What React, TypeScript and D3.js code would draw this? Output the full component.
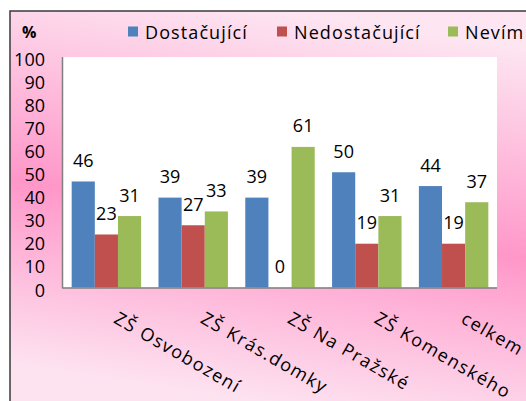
import React from "react";
import * as d3 from "d3";

const categories = ["ZŠ Osvobození", "ZŠ Krás.domky", "ZŠ Na Pražské", "ZŠ Komenského", "celkem"];
const seriesNames = ["Dostačující", "Nedostačující", "Nevím"];
const dostacujici = [46, 39, 39, 50, 44];
const nedostacujici = [23, 27, 0, 19, 19];
const nevim = [31, 33, 61, 31, 37];
const yTicks = [0, 10, 20, 30, 40, 50, 60, 70, 80, 90, 100];
const colors = ["#4F81BD", "#C0504D", "#9BBB59"];

const W = 526;
const H = 401;
const FONT = "'Open Sans', sans-serif";

export default function App() {
  const series = [dostacujici, nedostacujici, nevim];
  const plot = { left: 63, right: 497, top: 57, bottom: 287.5 };
  const x0 = d3.scaleBand<string>().domain(categories).range([plot.left, plot.right]).paddingInner(0.2).paddingOuter(0.1);
  const x1 = d3.scaleBand<string>().domain(seriesNames).range([0, x0.bandwidth()]).padding(0);
  const y = d3.scaleLinear().domain([0, 100]).range([plot.bottom, plot.top]);

  return (
    <svg width={W} height={H} style={{ position: "absolute", left: 0, top: 0 }} fontFamily={FONT}>
      <defs>
        <linearGradient id="bg" gradientUnits="userSpaceOnUse" x1={300} y1={12} x2={236} y2={427}>
          <stop offset="0" stopColor="#fde6f2" />
          <stop offset="0.5" stopColor="#ff97c9" />
          <stop offset="0.93" stopColor="#fde2f0" />
          <stop offset="1" stopColor="#fde2f0" />
        </linearGradient>
      </defs>
      <rect x={0} y={0} width={W} height={H} fill="#ffffff" />
      <rect x={10} y={11} width={W + 20} height={H + 20} fill="url(#bg)" stroke="#3a3a3a" strokeWidth={1.5} />
      <rect x={plot.left} y={plot.top} width={plot.right - plot.left} height={plot.bottom - plot.top} fill="#ffffff" />

      {categories.map((c, i) => (
        <g key={c}>
          {series.map((vals, s) => {
            const bx = (x0(c) as number) + (x1(seriesNames[s]) as number);
            const bw = x1.bandwidth();
            const v = vals[i];
            return (
              <g key={s}>
                {v > 0 && (
                  <rect x={bx} y={y(v)} width={bw} height={y(0) - y(v)} fill={colors[s]} />
                )}
                <text x={bx + bw / 2} y={y(v) - 14.5} textAnchor="middle" fontSize={18} fill="#000">
                  {v}
                </text>
              </g>
            );
          })}
        </g>
      ))}

      <line x1={plot.left - 0.5} x2={plot.left - 0.5} y1={plot.top} y2={plot.bottom + 0.5} stroke="#7f7f7f" strokeWidth={1.5} />
      <line x1={plot.left - 1} x2={plot.right} y1={plot.bottom + 0.5} y2={plot.bottom + 0.5} stroke="#7f7f7f" strokeWidth={1.5} />

      {yTicks.map((t) => (
        <text key={t} x={45} y={y(t) + 2} textAnchor="end" dominantBaseline="central" fontSize={18} fill="#000">
          {t}
        </text>
      ))}

      {categories.map((c) => {
        const cx = (x0(c) as number) + x0.bandwidth() / 2 + 14;
        const cy = 309;
        return (
          <text key={c} x={cx} y={cy} transform={`rotate(30, ${cx}, ${cy})`} dominantBaseline="hanging" fontSize={18} letterSpacing={1.5} fill="#000">
            {c}
          </text>
        );
      })}

      <text x={22} y={32} dominantBaseline="central" fontSize={16} fontWeight="bold" fill="#000">%</text>

      {seriesNames.map((n, i) => {
        const lx = [128, 277, 448][i];
        return (
          <g key={n}>
            <rect x={lx} y={26.5} width={10} height={10} fill={colors[i]} />
            <text x={lx + 17} y={32} dominantBaseline="central" fontSize={18} letterSpacing={1.1} fill="#000">{n}</text>
          </g>
        );
      })}
    </svg>
  );
}
